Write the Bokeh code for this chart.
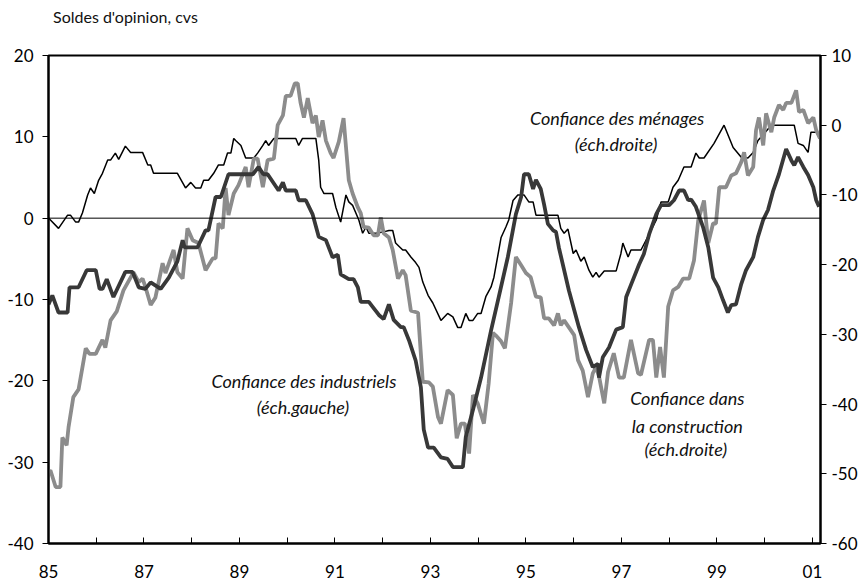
from bokeh.plotting import figure
from bokeh.models import Range1d, LinearAxis, FixedTicker, Span, Label, Div
from bokeh.layouts import column
from bokeh.embed import file_html
from bokeh.resources import INLINE

# ---- data (years since Jan 1985, values) ----
ind_t = [0, .08, .21, .40, .44, .63, .80, .99, 1.07, 1.13, 1.22, 1.36, 1.61, 1.76, 1.89, 2.03, 2.14, 2.35,
         2.52, 2.70, 2.81, 2.85, 3.12, 3.29, 3.35, 3.50, 3.61, 3.77, 4.09, 4.28, 4.40, 4.50, 4.59, 4.82,
         4.91, 4.97, 5.18, 5.24, 5.39, 5.53, 5.66, 5.81, 5.95, 6.06, 6.12, 6.29, 6.39, 6.48, 6.54, 6.71,
         6.79, 6.92, 7.02, 7.13, 7.23, 7.38, 7.44, 7.55, 7.69, 7.80, 7.86, 7.95, 8.07, 8.22, 8.36, 8.47,
         8.68, 8.74, 8.89, 9.06, 9.27, 9.43, 9.62, 9.79, 9.90, 9.96, 10.06, 10.15, 10.21, 10.31, 10.38,
         10.46, 10.57, 10.63, 10.69, 10.90, 11.11, 11.26, 11.40, 11.51, 11.53, 11.61, 11.74, 11.89, 12.03,
         12.10, 12.20, 12.37, 12.47, 12.58, 12.73, 12.83, 13.00, 13.10, 13.21, 13.31, 13.40, 13.46, 13.56,
         13.71, 13.82, 13.92, 14.03, 14.13, 14.23, 14.30, 14.40, 14.51, 14.61, 14.76, 14.86, 14.97, 15.07,
         15.18, 15.30, 15.45, 15.56, 15.62, 15.70, 15.81, 15.91, 16.02, 16.08, 16.14]
ind_v = [-10.6, -9.5, -11.6, -11.6, -8.5, -8.5, -6.4, -6.4, -8.7, -8.7, -7.5, -9.7, -6.6, -6.6, -8.5, -8.7,
         -7.9, -8.7, -7.3, -5.3, -2.7, -3.6, -3.6, -1.5, -1.5, 2.6, 2.6, 5.4, 5.4, 5.4, 6.3, 5.4, 5.4, 3.4,
         4.4, 3.4, 3.4, 2.2, 2.2, 0.5, -2.3, -2.7, -4.8, -4.5, -6.9, -7.5, -7.5, -8.5, -10.3, -10.3,
         -10.9, -11.9, -12.4, -10.6, -12.5, -13.4, -13.4, -15.0, -17.5, -20.8, -26.0, -28.2, -28.2, -29.4,
         -29.6, -30.6, -30.6, -26.9, -23.6, -19.6, -13.8, -9.7, -4.8, 0.5, 2.6, 5.4, 5.4, 3.6, 4.7, 3.6,
         1.7, -0.7, -1.5, -1.7, -3.6, -8.9, -13.4, -16.2, -18.3, -17.9, -19.6, -17.1, -15.9, -13.7, -13.4,
         -9.7, -8.2, -5.7, -4.4, -2.0, 0.5, 1.6, 1.6, 2.2, 3.4, 3.4, 2.2, 2.3, 1.4, -1.1, -3.6, -7.3, -8.5,
         -10.1, -11.6, -10.7, -10.6, -8.1, -6.4, -4.8, -2.3, -0.2, 1.0, 3.4, 5.4, 8.5, 7.1, 6.5, 7.5, 6.3,
         5.3, 3.8, 2.2, 1.4]

hh_t = [0, .21, .40, .46, .57, .63, .71, .82, .88, .96, 1.05, 1.13, 1.24, 1.30, 1.40, 1.47, 1.61, 1.72,
        1.97, 2.08, 2.14, 2.20, 2.70, 2.87, 2.98, 3.08, 3.19, 3.25, 3.35, 3.46, 3.56, 3.67, 3.75, 3.82,
        3.88, 3.92, 4.03, 4.13, 4.30, 4.38, 4.49, 4.55, 4.61, 4.72, 5.18, 5.24, 5.32, 5.60, 5.66, 5.70,
        5.77, 5.95, 6.02, 6.12, 6.23, 6.29, 6.37, 6.50, 6.58, 6.65, 6.71, 6.86, 7.02, 7.13, 7.21, 7.27,
        7.42, 7.48, 7.59, 7.69, 7.76, 7.84, 7.95, 8.05, 8.22, 8.36, 8.47, 8.57, 8.64, 8.74, 8.81, 8.89,
        8.99, 9.06, 9.16, 9.27, 9.33, 9.48, 9.58, 9.64, 9.73, 9.83, 9.96, 10.06, 10.15, 10.21, 10.67,
        10.73, 10.80, 10.88, 10.99, 11.05, 11.15, 11.22, 11.32, 11.40, 11.47, 11.53, 11.64, 11.89, 11.99,
        12.03, 12.14, 12.20, 12.41, 12.62, 12.73, 12.83, 12.98, 13.08, 13.19, 13.31, 13.46, 13.56, 13.63,
        13.73, 13.94, 14.15, 14.34, 14.51, 14.65, 14.76, 14.86, 14.99, 15.14, 15.62, 15.70, 15.81, 15.91,
        15.97, 16.08, 16.14]
hh_v = [-13.3, -14.8, -12.9, -12.9, -13.9, -13.9, -12.6, -10.0, -9.0, -9.8, -7.9, -6.9, -5.0, -5.0, -4.0,
        -4.9, -3.0, -3.9, -3.9, -5.7, -5.7, -6.9, -6.9, -9.0, -8.2, -9.0, -9.0, -7.9, -7.9, -6.9, -5.7,
        -5.7, -4.0, -4.0, -1.9, -2.2, -2.9, -4.7, -4.7, -4.0, -2.9, -2.2, -2.9, -1.9, -1.9, -2.9, -1.9,
        -1.9, -5.0, -8.9, -9.8, -9.8, -11.8, -13.9, -10.0, -11.0, -11.5, -13.6, -15.5, -14.6, -15.5,
        -15.5, -15.3, -15.1, -15.1, -16.9, -17.9, -17.9, -18.9, -19.7, -20.4, -22.5, -24.4, -25.5, -28.0,
        -27.0, -27.5, -29.0, -29.0, -27.0, -28.0, -28.0, -27.0, -27.0, -24.6, -23.2, -21.8, -16.1, -14.6,
        -13.6, -10.8, -10.0, -10.0, -11.0, -11.0, -12.9, -12.9, -14.8, -15.5, -14.9, -18.4, -17.9, -19.5,
        -18.9, -20.8, -21.8, -21.1, -21.8, -20.9, -20.9, -18.4, -16.9, -18.9, -17.9, -17.9, -15.1, -13.6,
        -11.0, -11.0, -8.9, -7.9, -6.0, -6.0, -4.0, -4.7, -4.7, -2.6, 0.0, -3.2, -4.6, -4.7, -3.9, -2.2,
        -1.2, 0.0, 0.0, -2.6, -2.9, -3.9, -1.0, -1.0, -1.7]

con_t = [0, .04, .15, .25, .29, .38, .42, .52, .63, .78, .86, .99, 1.13, 1.19, 1.30, 1.43, 1.57, 1.78,
         1.89, 1.97, 2.03, 2.14, 2.24, 2.39, 2.45, 2.62, 2.70, 2.81, 2.91, 3.02, 3.14, 3.29, 3.44, 3.50,
         3.56, 3.65, 3.71, 3.77, 3.88, 3.98, 4.13, 4.19, 4.30, 4.38, 4.49, 4.59, 4.72, 4.80, 4.91, 4.97,
         5.07, 5.16, 5.22, 5.28, 5.35, 5.43, 5.53, 5.60, 5.66, 5.74, 5.81, 5.91, 5.97, 6.08, 6.18, 6.29,
         6.37, 6.48, 6.54, 6.60, 6.71, 6.81, 6.90, 6.96, 7.02, 7.13, 7.21, 7.32, 7.42, 7.48, 7.59, 7.74,
         7.84, 7.97, 8.05, 8.16, 8.22, 8.36, 8.47, 8.55, 8.64, 8.72, 8.81, 8.89, 8.99, 9.12, 9.22, 9.31,
         9.39, 9.48, 9.56, 9.69, 9.79, 9.90, 10.00, 10.10, 10.21, 10.31, 10.38, 10.48, 10.59, 10.67, 10.73,
         10.80, 10.90, 11.01, 11.09, 11.19, 11.30, 11.40, 11.47, 11.53, 11.64, 11.72, 11.84, 11.95, 12.05,
         12.20, 12.35, 12.41, 12.58, 12.66, 12.73, 12.81, 12.89, 12.98, 13.08, 13.19, 13.29, 13.42, 13.52,
         13.61, 13.73, 13.82, 13.92, 13.98, 14.05, 14.19, 14.30, 14.40, 14.51, 14.57, 14.65, 14.76, 14.82,
         14.88, 14.97, 15.03, 15.14, 15.20, 15.30, 15.39, 15.45, 15.56, 15.66, 15.72, 15.81, 15.91, 16.02,
         16.08, 16.16]
con_v = [-49.8, -49.5, -51.9, -51.9, -44.8, -45.9, -43.3, -39.0, -37.9, -32.0, -32.8, -32.8, -30.8, -31.9,
         -28.0, -26.7, -23.7, -21.1, -22.5, -22.0, -23.2, -25.8, -24.7, -19.8, -21.2, -17.9, -21.1, -22.0,
         -14.8, -16.5, -16.9, -20.8, -19.1, -19.1, -14.1, -14.8, -9.0, -12.9, -9.8, -8.6, -6.0, -8.9, -4.8,
         -4.8, -8.9, -5.0, -4.8, 0.0, 1.4, 4.2, 4.2, 6.0, 6.0, 3.2, 1.1, 3.9, 0.3, 1.4, -1.7, 0.7, -2.2,
         -4.0, -4.7, -2.4, 1.0, -7.9, -9.8, -11.8, -12.6, -14.6, -14.7, -15.8, -15.8, -13.2, -15.5, -16.1,
         -17.9, -22.0, -20.8, -21.5, -26.6, -26.9, -36.8, -36.9, -37.5, -41.9, -42.8, -38.0, -38.7, -44.9,
         -42.8, -42.8, -47.1, -38.7, -39.9, -42.8, -37.0, -29.8, -30.3, -31.0, -32.0, -25.5, -18.9, -20.1,
         -21.2, -21.8, -24.6, -24.7, -27.7, -27.7, -28.7, -27.0, -28.7, -28.0, -29.0, -30.1, -33.7, -35.2,
         -39.0, -35.6, -34.7, -36.0, -39.9, -35.4, -32.7, -36.2, -36.2, -30.8, -35.6, -35.8, -30.8, -30.8,
         -36.2, -31.8, -36.2, -26.0, -23.7, -23.2, -22.0, -22.0, -19.4, -13.6, -10.8, -16.9, -14.1, -14.1,
         -8.9, -8.9, -7.2, -6.9, -5.3, -3.9, -7.2, -6.0, -0.7, 1.1, -2.9, 1.7, -1.0, 1.1, 2.9, 2.2, 3.2,
         3.2, 5.0, 1.9, 2.2, 0.3, 1.1, -0.7, -1.9]

x_ticks = list(range(1985, 2002))
x_labels = {y: (f"{y % 100:02d}" if y % 2 == 1 else "") for y in x_ticks}
left_ticks = [-40, -30, -20, -10, 0, 10, 20]
right_ticks = [-60, -50, -40, -30, -20, -10, 0, 10]
title_text = "Soldes d'opinion, cvs"

FONT = "Lato"

ind_x = [1985 + t for t in ind_t]
hh_x = [1985 + t for t in hh_t]
con_x = [1985 + t for t in con_t]

W = 860
DIV_H = 30
H = 587 - DIV_H
FRAME_TOP, FRAME_BOTTOM = 55 - DIV_H, 543 - DIV_H

title_div = Div(
    text=title_text,
    width=W - 53, height=DIV_H - 7, margin=(7, 0, 0, 53),
    styles={"font-family": "Lato, sans-serif", "font-size": "16px", "color": "#111111",
            "line-height": "20px", "white-space": "nowrap", "padding": "0px"})

p = figure(width=W, height=H, output_backend="svg", toolbar_location=None,
           x_range=Range1d(1985, 2001.17), y_range=Range1d(-40, 20),
           min_border_left=48, min_border_right=W - 820, min_border_top=FRAME_TOP,
           min_border_bottom=H - FRAME_BOTTOM, margin=(0, 0, 0, 0),
           background_fill_color="white", border_fill_color="white")
p.extra_y_ranges = {"right": Range1d(-60, 10)}
p.outline_line_color = "black"
p.outline_line_width = 2
p.xgrid.visible = False
p.ygrid.visible = False

xa = p.xaxis[0]
xa.ticker = FixedTicker(ticks=x_ticks)
xa.major_label_overrides = x_labels
xa.major_tick_in = 6
xa.major_tick_out = 0
xa.minor_tick_line_color = None
xa.axis_line_width = 2
xa.major_label_standoff = 21

ya = p.yaxis[0]
ya.ticker = FixedTicker(ticks=left_ticks)
ya.major_label_overrides = {v: str(v) for v in left_ticks}
ya.major_tick_in = 0
ya.major_tick_out = 6
ya.minor_tick_line_color = None
ya.axis_line_width = 2
ya.major_label_standoff = 9

ra = LinearAxis(y_range_name="right", ticker=FixedTicker(ticks=right_ticks))
ra.major_label_overrides = {v: str(v) for v in right_ticks}
ra.major_tick_in = 0
ra.major_tick_out = 6
ra.minor_tick_line_color = None
ra.axis_line_width = 2
ra.major_label_standoff = 5
p.add_layout(ra, "right")

for ax in (xa, ya, ra):
    ax.major_label_text_font = FONT
    ax.major_label_text_font_size = "17px"
    ax.major_label_text_color = "black"
    ax.axis_line_color = "black"
    ax.major_tick_line_color = "black"
    ax.major_tick_line_width = 1

p.add_layout(Span(location=0, dimension="width", line_color="black", line_width=1))

p.line(hh_x, hh_v, y_range_name="right", line_color="black", line_width=1.5)
p.line(con_x, con_v, y_range_name="right", line_color="#8c8c8c", line_width=3.8)
p.line(ind_x, ind_v, line_color="#383838", line_width=3.8)

labels = [
    (1996.91, 12.3, "Confiance des ménages"),
    (1996.89, 9.1, "(éch.droite)"),
    (1990.35, -20.0, "Confiance des industriels"),
    (1990.33, -23.2, "(éch.gauche)"),
    (1998.38, -22.1, "Confiance dans"),
    (1998.38, -25.5, "la construction"),
    (1998.35, -28.4, "(éch.droite)"),
]
for x, y, t in labels:
    p.add_layout(Label(x=x, y=y, text=t, text_font=FONT, text_font_style="italic",
                       text_font_size="18px", text_align="center", text_baseline="middle",
                       text_color="#111111"))

layout = column(title_div, p, spacing=0, margin=(0, 0, 0, 0))
open("out.html", "w").write(file_html(layout, INLINE))
